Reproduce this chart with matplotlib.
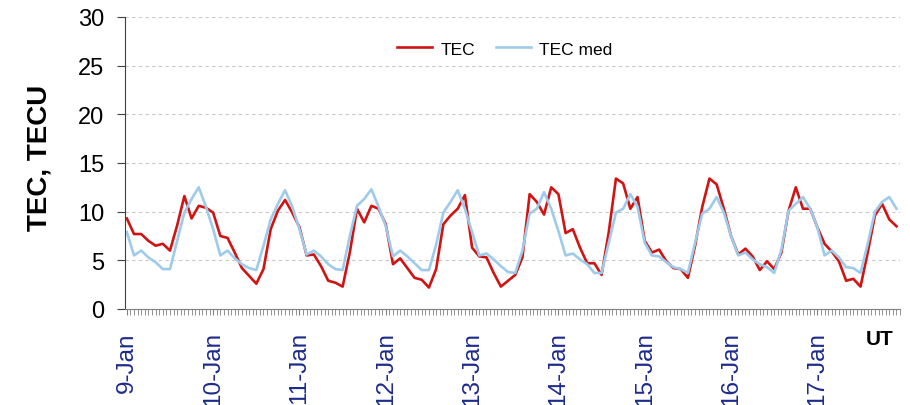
import matplotlib.pyplot as plt
import numpy as np

plt.rcParams['font.family'] = ['Liberation Sans', 'DejaVu Sans']

# 2-hourly TEC values, 9-Jan 00 UT to 17-Jan 22 UT
tec = [9.3, 7.7, 7.7, 7.0, 6.5, 6.7, 6.0, 8.6, 11.6, 9.3, 10.6, 10.4,
       9.9, 7.5, 7.3, 5.8, 4.2, 3.4, 2.6, 4.1, 8.2, 10.1, 11.2, 9.9,
       8.4, 5.5, 5.6, 4.4, 2.9, 2.7, 2.3, 5.8, 10.3, 8.9, 10.6, 10.3,
       8.7, 4.6, 5.2, 4.2, 3.2, 3.0, 2.2, 4.1, 8.7, 9.6, 10.3, 11.7,
       6.3, 5.4, 5.3, 3.7, 2.3, 2.9, 3.5, 5.3, 11.8, 11.0, 9.7, 12.5,
       11.8, 7.8, 8.2, 6.3, 4.7, 4.7, 3.5, 7.9, 13.4, 12.9, 10.3, 11.5,
       7.0, 5.8, 6.1, 4.9, 4.2, 4.1, 3.2, 6.5, 10.5, 13.4, 12.8, 10.3,
       7.5, 5.6, 6.2, 5.4, 4.0, 4.9, 4.1, 5.8, 10.1, 12.5, 10.3, 10.3,
       8.4, 6.7, 5.9, 4.9, 2.9, 3.1, 2.3, 5.8, 9.6, 10.8, 9.2, 8.5]

tec_med = [7.9, 5.5, 6.0, 5.3, 4.8, 4.1, 4.1, 7.0, 9.9, 11.3, 12.5, 10.5,
           8.2, 5.5, 6.0, 5.2, 4.6, 4.2, 4.0, 6.5, 9.2, 10.8, 12.2, 10.5,
           8.2, 5.6, 6.0, 5.4, 4.6, 4.1, 4.0, 7.5, 10.6, 11.3, 12.3, 10.5,
           8.5, 5.4, 6.0, 5.4, 4.7, 4.0, 4.0, 6.6, 9.9, 11.0, 12.2, 10.3,
           7.9, 5.5, 5.7, 5.1, 4.4, 3.8, 3.7, 6.0, 9.8, 10.3, 12.0, 10.3,
           8.0, 5.5, 5.7, 5.1, 4.6, 3.7, 3.7, 6.8, 9.9, 10.3, 11.8, 10.5,
           6.8, 5.5, 5.4, 4.8, 4.3, 4.1, 3.7, 6.8, 9.8, 10.3, 11.5, 9.9,
           7.5, 5.5, 5.8, 5.1, 4.6, 4.3, 3.7, 6.1, 10.1, 10.8, 11.5, 10.3,
           8.4, 5.5, 6.0, 5.3, 4.3, 4.2, 3.7, 6.7, 10.0, 11.0, 11.5, 10.3]

day_labels = ['9-Jan', '10-Jan', '11-Jan', '12-Jan', '13-Jan',
              '14-Jan', '15-Jan', '16-Jan', '17-Jan']

hours = np.arange(len(tec)) * 2

fig = plt.figure(figsize=(9.1, 4.06), dpi=100)
ax = fig.add_axes([0.1374, 0.2365, 0.8517, 0.7192])

ax.plot(hours, tec, color='#d01414', linewidth=1.9, label='TEC')
ax.plot(hours, tec_med, color='#9fcbeb', linewidth=1.9, label='TEC med')

ax.set_ylim(0, 30)
ax.set_yticks(range(0, 31, 5))
ax.set_xlim(-0.5, 214.8)
ax.set_xticks(np.arange(len(day_labels)) * 24)
ax.set_xticklabels(day_labels, rotation=90, color='#1c2a8c', fontsize=17.5)
ax.set_xticks(np.arange(0, 216), minor=True)

ax.grid(axis='y', color='#c8c8c8', linestyle=(0, (3, 3)), linewidth=0.8)
ax.set_axisbelow(True)

for s in ['top', 'right']:
    ax.spines[s].set_visible(False)
ax.spines['left'].set_color('#404040')
ax.spines['bottom'].set_color('#808080')

ax.tick_params(axis='y', labelsize=17, length=6, color='#404040', pad=9)
ax.tick_params(axis='x', which='both', length=4, color='#808080', pad=12)

ax.set_ylabel('TEC, TECU', fontsize=20, fontweight='bold')
ax.yaxis.set_label_coords(-0.094, 0.52)

ax.legend(loc='upper center', bbox_to_anchor=(0.49, 0.97), ncol=2,
          frameon=False, fontsize=12.5, handlelength=2.0, columnspacing=1.2,
          handletextpad=0.5)

fig.text(880 / 910, 1 - 340 / 406, 'UT', fontsize=15, fontweight='bold',
         ha='center', va='center')

fig.savefig('out.png', dpi=100)
